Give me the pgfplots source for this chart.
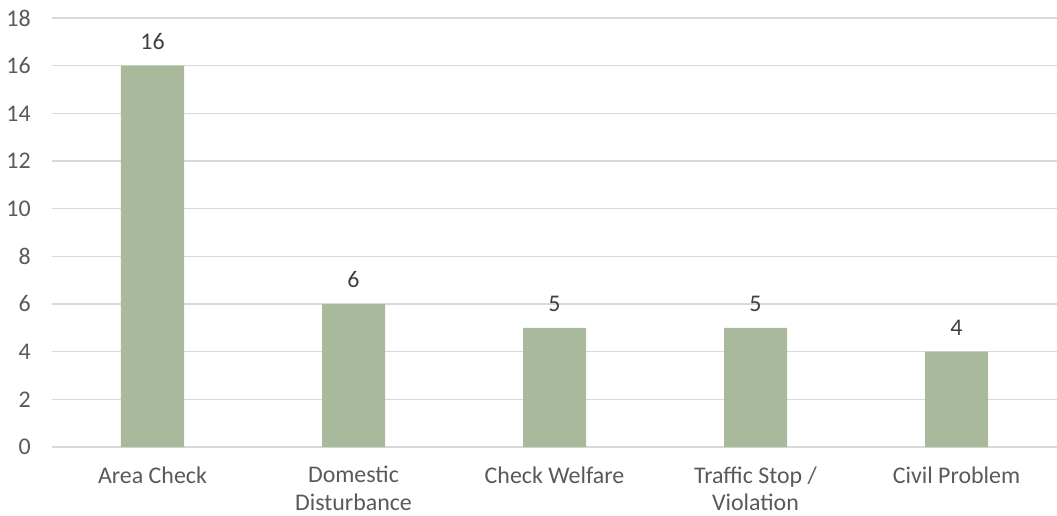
\documentclass[border=0pt]{standalone}
\usepackage{pgfplots}
\pgfplotsset{compat=1.18}
\usepackage{fontspec}
\setmainfont{Carlito}
\definecolor{barc}{HTML}{A9B99C}
\definecolor{gridc}{HTML}{D9D9D9}
\definecolor{tickc}{HTML}{595959}
\definecolor{labc}{HTML}{404040}
\begin{document}
\fontsize{12}{14}\selectfont
\begin{tikzpicture}[x=1bp,y=1bp]
\useasboundingbox (-26bp,-34.5bp) rectangle (502.5bp,223.5bp);
\begin{axis}[
  at={(0,0)}, anchor=south west,
  scale only axis,
  width=502.5bp, height=214.5bp,
  xmin=-0.5, xmax=4.5, ymin=0, ymax=18,
  ytick={0,2,...,18},
  xtick={0,1,2,3,4},
  xticklabels={Area Check,Domestic\\Disturbance,Check Welfare,Traffic Stop /\\Violation,Civil Problem},
  xticklabel style={align=center, inner sep=0pt, text=tickc, font=\fontsize{12}{14}\selectfont, yshift=-9.5bp},
  yticklabel style={text=tickc, font=\fontsize{12}{14}\selectfont, xshift=-6.5bp},
  /pgf/number format/assume math mode=true,
  ymajorgrids, grid style={gridc, line width=0.75bp},
  axis x line*=bottom, axis y line*=left,
  y axis line style={draw=none},
  x axis line style={gridc, line width=0.75bp, -},
  major tick length=0pt,
  ybar, bar width=31.5bp,
  nodes near coords,
  every node near coord/.append style={text=labc, font=\fontsize{12}{14}\selectfont, yshift=4bp},
  clip=false,
]
\addplot[fill=barc, draw=none] coordinates {(0,16) (1,6) (2,5) (3,5) (4,4)};
\end{axis}
\end{tikzpicture}
\end{document}
